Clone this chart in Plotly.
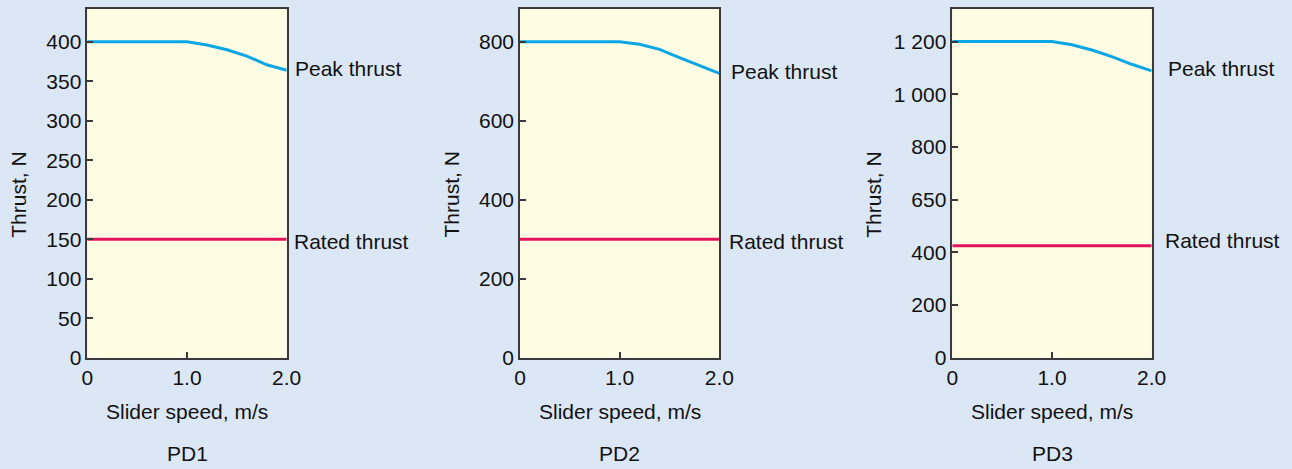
import plotly.graph_objects as go

speed = [0, 1.0, 1.2, 1.4, 1.6, 1.8, 2.0]
peak_pd1 = [400, 400, 396, 390, 382, 371, 364]
peak_pd2 = [800, 800, 794, 781, 760, 740, 720]
peak_pd3 = [1200, 1200, 1188, 1168, 1143, 1114, 1089]
rated_pd1 = 150
rated_pd2 = 300
rated_pd3 = 425
models = ["PD1", "PD2", "PD3"]

x_tickvals = [0, 1.0, 2.0]
x_ticktext = ["0", "1.0", "2.0"]
y_tickvals = [
    [0, 50, 100, 150, 200, 250, 300, 350, 400],
    [0, 200, 400, 600, 800],
    [0, 200, 400, 600, 800, 1000, 1200],
]
y_ticktext = [
    ["0", "50", "100", "150", "200", "250", "300", "350", "400"],
    ["0", "200", "400", "600", "800"],
    ["0", "200", "400", "650", "800", "1 000", "1 200"],
]
y_max = [442, 884, 1325]

peaks = [peak_pd1, peak_pd2, peak_pd3]
rateds = [rated_pd1, rated_pd2, rated_pd3]

BLUE = "#0AA6E6"
RED = "#E2145E"
FRAME = "#3A3A3A"
FONT = "Liberation Sans, Arial, sans-serif"
FS = 21

W, H = 1292, 469
x_dom_px = [(87.3, 286.7), (520.0, 719.3), (952.3, 1151.7)]
y_top_px, y_bot_px = 8.7, 357.7
ydom = [(H - y_bot_px) / H, (H - y_top_px) / H]

fig = go.Figure()
annotations = []
for i in range(3):
    n = "" if i == 0 else str(i + 1)
    xa, ya = "x" + n, "y" + n
    fig.add_trace(go.Scatter(x=speed, y=peaks[i], mode="lines",
                             line=dict(color=BLUE, width=3), xaxis=xa, yaxis=ya,
                             showlegend=False, hoverinfo="skip"))
    fig.add_trace(go.Scatter(x=[speed[0], speed[-1]], y=[rateds[i], rateds[i]], mode="lines",
                             line=dict(color=RED, width=3), xaxis=xa, yaxis=ya,
                             showlegend=False, hoverinfo="skip"))
    d = x_dom_px[i]
    fig.layout["xaxis" + n] = dict(
        domain=[d[0] / W, d[1] / W], range=[0, 2.0], anchor=ya, automargin=False,
        tickvals=x_tickvals, ticktext=x_ticktext, ticks="inside", ticklen=6,
        tickcolor=FRAME, tickwidth=1.5,
        showline=True, linecolor=FRAME, linewidth=1.5, mirror=True,
        showgrid=False, zeroline=False, fixedrange=True,
        tickfont=dict(family=FONT, size=FS, color="#111"),
    )
    fig.layout["yaxis" + n] = dict(
        domain=ydom, range=[0, y_max[i]], anchor=xa, automargin=False,
        tickvals=y_tickvals[i], ticktext=y_ticktext[i], ticks="inside", ticklen=6,
        tickcolor=FRAME, tickwidth=1.5,
        showline=True, linecolor=FRAME, linewidth=1.5, mirror=True,
        showgrid=False, zeroline=False, fixedrange=True,
        tickfont=dict(family=FONT, size=FS, color="#111"),
    )
    dom_x = xa + " domain"
    dom_y = ya + " domain"
    annotations += [
        dict(text="Peak thrust", xref=xa, yref=ya, x=2.0, y=peaks[i][-1],
             xanchor="left", yanchor="middle", xshift=6 + (i * 4), yshift=2, showarrow=False),
        dict(text="Rated thrust", xref=xa, yref=ya, x=2.0, y=rateds[i],
             xanchor="left", yanchor="middle", xshift=5 + (i * 3), yshift=(-2 if i < 2 else 5),
             showarrow=False),
        dict(text="Thrust, N", xref=dom_x, yref=dom_y, x=0, y=(y_bot_px - 194.5) / (y_bot_px - y_top_px),
             xanchor="center", yanchor="middle", textangle=-90,
             xshift=-(69 if i < 2 else 79), showarrow=False),
        dict(text="Slider speed, m/s", xref=dom_x, yref=dom_y, x=0.5, y=0,
             xanchor="center", yanchor="middle", yshift=-54, showarrow=False),
        dict(text=models[i], xref=dom_x, yref=dom_y, x=0.5, y=0,
             xanchor="center", yanchor="middle", yshift=-96, showarrow=False),
    ]

fig.update_layout(
    width=W, height=H, margin=dict(l=0, r=0, t=0, b=0),
    paper_bgcolor="#DCE7F6", plot_bgcolor="#FFFCE4",
    font=dict(family=FONT, size=FS, color="#111"),
    annotations=annotations,
)
fig.write_html("out.html")
